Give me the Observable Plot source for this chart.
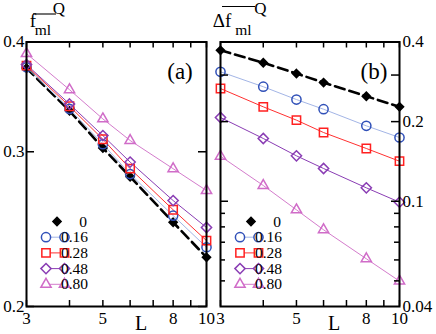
<!DOCTYPE html>
<html><head><meta charset="utf-8">
<script src="https://cdn.jsdelivr.net/npm/d3@7"></script>
<script src="https://cdn.jsdelivr.net/npm/@observablehq/plot@0.6"></script>
<style>
html,body{margin:0;padding:0;background:#fff;color:#000;}
#wrap{position:relative;width:436px;height:334px;overflow:hidden;}
#wrap svg{position:absolute;left:0;top:0;}
#wrap text{font-family:"Liberation Serif","DejaVu Serif",serif !important;}
</style></head><body><div id="wrap"></div>
<script>
// ---- data ----
const L = [3, 4, 5, 6, 8, 10];
const seriesNames = ["0", "0.16", "0.28", "0.48", "0.80"];
// panel (a): mean f_ml^Q
const fa0  = [0.3735, 0.334, 0.303, 0.281, 0.2494, 0.2275];
const fa16 = [0.3744, 0.3357, 0.306, 0.283, 0.2538, 0.2336];
const fa28 = [0.376, 0.338, 0.310, 0.287, 0.2577, 0.2377];
const fa48 = [0.377, 0.340, 0.313, 0.292, 0.264, 0.246];
const fa80 = [0.388, 0.353, 0.327, 0.309, 0.287, 0.271];
// panel (b): mean Delta f_ml^Q
const db0  = [0.372, 0.334, 0.304, 0.281, 0.2495, 0.2275];
const db16 = [0.3086, 0.271, 0.2424, 0.2228, 0.1928, 0.1742];
const db28 = [0.2668, 0.2275, 0.2026, 0.1819, 0.1583, 0.1417];
const db48 = [0.2073, 0.1727, 0.1485, 0.133, 0.1124, 0.0992];
const db80 = [0.148, 0.1147, 0.0928, 0.078, 0.0606, 0.0499];
// ticks
const xTicks = [3, 4, 5, 6, 7, 8, 9, 10];
const xTickLabels = ["3", "5", "8", "10"];
const yTicksA = [0.2, 0.3, 0.4];
const yLabelsA = ["0.2", "0.3", "0.4"];
const yMajorB = [0.1, 0.2, 0.3, 0.4];
const yMinorB = [0.05, 0.06, 0.07, 0.08, 0.09];
const yLabelsB = ["0.04", "0.1", "0.2", "0.4"];

// ---- styling ----
const W = 436, H = 334, mTop = 41.5, mBottom = 28;
const fh = H - mTop - mBottom;
const font = "Liberation Serif, DejaVu Serif, serif";
const styles = [
  {symbol: "diamond2", fill: "#000", stroke: "#000", r: 3.7, line: "#000", lw: 2.6, dash: "10,5"},
  {symbol: "circle", fill: "none", stroke: "#3050b8", r: 4.6, line: "#a3b5e6", lw: 1, dash: null},
  {symbol: "square2", fill: "none", stroke: "#ff2020", r: 5.3, line: "#ff3030", lw: 1, dash: null},
  {symbol: "diamond2", fill: "none", stroke: "#8a3db4", r: 4.6, line: "#8a3db4", lw: 1, dash: null},
  {symbol: "triangle2", fill: "none", stroke: "#d06cc8", r: 4.9, line: "#d47ccc", lw: 1, dash: null}
];
const dataA = [fa0, fa16, fa28, fa48, fa80];
const dataB = [db0, db16, db28, db48, db80];

function seriesMarks(arrs) {
  const marks = [];
  arrs.forEach((vals, i) => {
    const s = styles[i];
    const rows = L.map((x, j) => ({L: x, v: vals[j]}));
    marks.push(Plot.line(rows, {x: "L", y: "v", stroke: s.line, strokeWidth: s.lw, strokeDasharray: s.dash}));
  });
  arrs.forEach((vals, i) => {
    const s = styles[i];
    const rows = L.map((x, j) => ({L: x, v: vals[j]}));
    marks.push(Plot.dot(rows, {x: "L", y: "v", symbol: s.symbol, r: s.r, fill: s.fill, stroke: s.stroke, strokeWidth: 1.5}));
  });
  return marks;
}

function panel({mL, mR, yDomain, arrs, yMajor, yMinor, yLabels, labelSide}) {
  const fw = W - mL - mR;
  const marks = [
    ...seriesMarks(arrs),
    Plot.ruleX(xTicks, {x: d => d, insetTop: fh - 6, stroke: "#000", strokeWidth: 1.5}),
    Plot.ruleX(xTicks, {x: d => d, insetBottom: fh - 6, stroke: "#000", strokeWidth: 1.5}),
    Plot.ruleY(yMajor, {y: d => d, insetRight: fw - 8, stroke: "#000", strokeWidth: 1.5}),
    Plot.ruleY(yMajor, {y: d => d, insetLeft: fw - 8, stroke: "#000", strokeWidth: 1.5}),
    Plot.ruleY(yMinor, {y: d => d, insetRight: fw - 5, stroke: "#000", strokeWidth: 1.5}),
    Plot.ruleY(yMinor, {y: d => d, insetLeft: fw - 5, stroke: "#000", strokeWidth: 1.5}),
    Plot.frame({stroke: "#000", strokeWidth: 2}),
    Plot.text(xTickLabels, {x: d => +d, text: d => d, frameAnchor: "bottom", lineAnchor: "middle", dy: 12, fontSize: 17, fill: "#000"}),
    Plot.text(yLabels, {y: d => +d, text: d => d, frameAnchor: labelSide, lineAnchor: "middle",
      textAnchor: labelSide === "left" ? "end" : "start", dx: labelSide === "left" ? -2 : 3, fontSize: 17, fill: "#000"})
  ];
  return Plot.plot({
    width: W, height: H,
    marginLeft: mL, marginRight: mR, marginTop: mTop, marginBottom: mBottom,
    x: {type: "log", domain: [3, 10], axis: null},
    y: {type: "log", domain: yDomain, axis: null},
    style: {fontFamily: font, fontSize: "17px", color: "#000", background: "transparent", overflow: "visible"},
    marks
  });
}

const wrap = document.getElementById("wrap");
const svgA = panel({mL: 26, mR: W - 206, yDomain: [0.2, 0.4], arrs: dataA, yMajor: yTicksA, yMinor: [], yLabels: yLabelsA, labelSide: "left"});
const svgB = panel({mL: 220, mR: W - 399, yDomain: [0.04, 0.4], arrs: dataB, yMajor: yMajorB, yMinor: yMinorB, yLabels: yLabelsB, labelSide: "right"});
wrap.appendChild(svgA);
wrap.appendChild(svgB);

// ---- annotations: titles, panel letters, axis label, legend ----
function annotate(svg, frameLeft, opts) {
  const g = d3.select(svg).append("g").attr("font-family", font).attr("fill", "#000");
  // title as one text with sub/superscript tspans
  const t = g.append("text").attr("x", frameLeft + opts.tx).attr("y", 26.5);
  t.append("tspan").attr("font-size", 19).text(opts.main);
  t.append("tspan").attr("font-size", 15.5).attr("x", frameLeft + opts.subx).attr("y", 35).text("ml");
  t.append("tspan").attr("font-size", 17).attr("x", frameLeft + opts.qx).attr("y", 13.5).text("Q");
  g.append("line").attr("x1", frameLeft + opts.tx).attr("x2", frameLeft + opts.olx2)
    .attr("y1", opts.oly).attr("y2", opts.oly).attr("stroke", "#000").attr("stroke-width", 1.1);
  // panel letter
  g.append("text").attr("x", opts.letterX).attr("y", 79).attr("font-size", 23).attr("text-anchor", "middle").text(opts.letter);
  // x label
  g.append("text").attr("x", opts.Lx).attr("y", 330).attr("font-size", 20).attr("text-anchor", "middle").text("L");
  // legend
  const y0 = 221.5, step = 15.7;
  seriesNames.forEach((name, i) => {
    const s = styles[i];
    const y = y0 + i * step;
    const sym = {circle: d3.symbolCircle, square2: d3.symbolSquare2, diamond2: d3.symbolDiamond2, triangle2: d3.symbolTriangle2}[s.symbol];
    const path = d3.symbol(sym, Math.PI * s.r * s.r)();
    if (i === 0) {
      g.append("path").attr("d", path).attr("transform", `translate(${frameLeft + 31},${y})`)
        .attr("fill", s.fill).attr("stroke", s.stroke).attr("stroke-width", 1.5);
      g.append("text").attr("x", frameLeft + 57).attr("y", y + 5).attr("font-size", 15.5).text(name);
    } else {
      g.append("line").attr("x1", frameLeft + 20).attr("x2", frameLeft + 38.5).attr("y1", y).attr("y2", y)
        .attr("stroke", s.line).attr("stroke-width", 1);
      [20, 38.5].forEach(dx => {
        g.append("path").attr("d", path).attr("transform", `translate(${frameLeft + dx},${y})`)
          .attr("fill", "#fff").attr("stroke", s.stroke).attr("stroke-width", 1.5);
      });
      g.append("text").attr("x", frameLeft + 48.5).attr("y", y + 5).attr("font-size", 15.5).text(name);
    }
  });
}
annotate(svgA, 26, {main: "f", tx: 7, subx: 17, qx: 33, olx2: 30, oly: 14, letter: "(a)", letterX: 180, Lx: 141});
annotate(svgB, 220, {main: "\u0394f", tx: 2, subx: 23.5, qx: 40.5, olx2: 35, oly: 6.5, letter: "(b)", letterX: 374, Lx: 334});
</script></body></html>
